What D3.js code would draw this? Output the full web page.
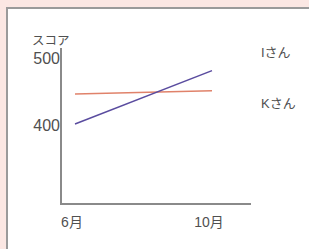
<!DOCTYPE html>
<html>
<head>
<meta charset="utf-8">
<script src="https://cdn.jsdelivr.net/npm/d3@7"></script>
<style>
  html, body { margin: 0; padding: 0; background: #fbe7e3; }
  svg { display: block; }
</style>
</head>
<body>
<script>
const months = ["6月", "10月"];
const seriesNames = ["Iさん", "Kさん"];
const scoresI = [400, 480];
const scoresK = [445, 450];
const yTicks = [400, 500];

const COLORS = {
    bg: '#fbe7e3',
    panel: '#ffffff',
    border: '#9a9a9a',
    axis: '#8a8a8a',
    text: '#505050',
    lineI: '#5a4c9f',
    lineK: '#e0826a'
};
const FONT = '"Liberation Sans", "Noto Sans CJK JP", sans-serif';

const W = 309, H = 249;
const svg = d3.select('body').append('svg').attr('width', W).attr('height', H);

svg.append('rect').attr('width', W).attr('height', H).attr('fill', COLORS.bg);
svg.append('rect')
    .attr('x', 7).attr('y', 8)
    .attr('width', 330).attr('height', 270)
    .attr('fill', COLORS.panel)
    .attr('stroke', COLORS.border)
    .attr('stroke-width', 2);

const x = d3.scalePoint().domain(months).range([75, 212]);
const y = d3.scaleLinear().domain([280, 514]).range([204, 48]);

// axes
const axisLeft = 61, axisRight = 251;
svg.append('line')
    .attr('x1', axisLeft).attr('x2', axisLeft)
    .attr('y1', y(514)).attr('y2', y(280) + 1)
    .attr('stroke', COLORS.axis).attr('stroke-width', 2);
svg.append('line')
    .attr('x1', axisLeft).attr('x2', axisRight)
    .attr('y1', y(280)).attr('y2', y(280))
    .attr('stroke', COLORS.axis).attr('stroke-width', 2);

svg.selectAll('.ytick').data(yTicks).enter()
    .append('text')
    .attr('class', 'ytick')
    .attr('x', axisLeft - 1)
    .attr('y', d => y(d) + 6.5)
    .attr('text-anchor', 'end')
    .attr('font-family', FONT).attr('font-size', 16)
    .attr('fill', COLORS.text)
    .text(d => d);

svg.append('text')
    .attr('x', 32).attr('y', 45)
    .attr('font-family', FONT).attr('font-size', 12.5)
    .attr('fill', COLORS.text)
    .text('スコア');

svg.selectAll('.xtick').data(months).enter()
    .append('text')
    .attr('class', 'xtick')
    .attr('x', d => x(d) - 3)
    .attr('y', 227)
    .attr('text-anchor', 'middle')
    .attr('font-family', FONT).attr('font-size', 14)
    .attr('fill', COLORS.text)
    .text(d => d);

// lines
const line = d3.line().x((d, i) => x(months[i])).y(d => y(d));
svg.append('path').datum(scoresK)
    .attr('d', line).attr('fill', 'none')
    .attr('stroke', COLORS.lineK).attr('stroke-width', 1.5);
svg.append('path').datum(scoresI)
    .attr('d', line).attr('fill', 'none')
    .attr('stroke', COLORS.lineI).attr('stroke-width', 1.5);

// legend labels
svg.selectAll('.legend').data(seriesNames).enter()
    .append('text')
    .attr('class', 'legend')
    .attr('x', 261)
    .attr('y', (d, i) => 57 + i * 51)
    .attr('font-family', FONT).attr('font-size', 13)
    .attr('fill', COLORS.text)
    .text(d => d);
</script>
</body>
</html>
